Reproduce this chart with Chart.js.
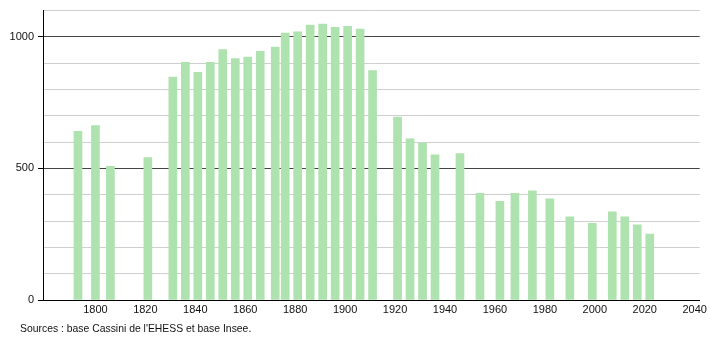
<!DOCTYPE html>
<html lang="fr">
<head>
  <meta charset="UTF-8">
  <title>Population</title>
  <script src="https://cdn.jsdelivr.net/npm/chart.js@4.4.0/dist/chart.umd.min.js"></script>
  <style>
    body { margin: 0; background: #fff; }
    #wrap { position: relative; width: 710px; height: 340px; }
    #src { position: absolute; left: 20px; top: 323px; font: 10.4px "Liberation Sans", Arial, sans-serif; color: #111; }
  </style>
</head>
<body>
  <div id="wrap">
    <canvas id="popChart" width="710" height="340"></canvas>
    <div id="src">Sources : base Cassini de l'EHESS et base Insee.</div>
  </div>
  <script>
    // années de recensement et population
    const years = [1793, 1800, 1806, 1821, 1831, 1836, 1841, 1846, 1851, 1856, 1861, 1866, 1872, 1876,
      1881, 1886, 1891, 1896, 1901, 1906, 1911, 1921, 1926, 1931, 1936, 1946, 1954, 1962, 1968, 1975,
      1982, 1990, 1999, 2007, 2012, 2017, 2022];
    const population = [641, 663, 508, 541, 847, 903, 865, 903, 952, 918, 923, 945, 961, 1015,
      1019, 1045, 1049, 1036, 1040, 1030, 872, 695, 613, 596, 552, 557, 405, 375, 405, 415,
      385, 316, 291, 335, 316, 286, 251];
    const xTicks = [1800, 1820, 1840, 1860, 1880, 1900, 1920, 1940, 1960, 1980, 2000, 2020, 2040];
    const yLabels = [0, 500, 1000];

    const points = years.map((y, i) => ({ x: y, y: population[i] }));
    const font = { family: '"Liberation Sans", Arial, sans-serif', size: 11 };

    new Chart(document.getElementById('popChart'), {
      type: 'bar',
      data: {
        datasets: [{
          data: points,
          backgroundColor: 'rgb(174, 226, 174)',
          barThickness: 8,
        }]
      },
      options: {
        responsive: false,
        animation: false,
        layout: { padding: { top: 10, right: 10, left: 0, bottom: 0 } },
        plugins: { legend: { display: false }, tooltip: { enabled: false } },
        scales: {
          x: {
            type: 'linear',
            min: 1779,
            max: 2042,
            offset: false,
            afterBuildTicks: s => { s.ticks = xTicks.map(v => ({ value: v })); },
            afterFit: s => { s.height = 40; },
            ticks: {
              font: font, color: '#111', padding: 3, maxRotation: 0, autoSkip: false,
              callback: v => String(v)
            },
            grid: { display: false, drawTicks: false },
            border: { display: true, color: '#000', width: 1 }
          },
          y: {
            min: 0,
            max: 1100,
            afterFit: s => { s.width = 43; },
            ticks: {
              stepSize: 100,
              font: font,
              color: '#111',
              padding: 4,
              callback: v => yLabels.includes(v) ? String(v) : ''
            },
            grid: {
              color: c => (c.tick && c.tick.value % 500 === 0) ? '#444' : '#cfcfcf',
              tickColor: c => (c.tick && yLabels.includes(c.tick.value)) ? '#000' : 'rgba(0,0,0,0)',
              tickLength: 5
            },
            border: { display: true, color: '#000', width: 1 }
          }
        }
      }
    });
  </script>
</body>
</html>
